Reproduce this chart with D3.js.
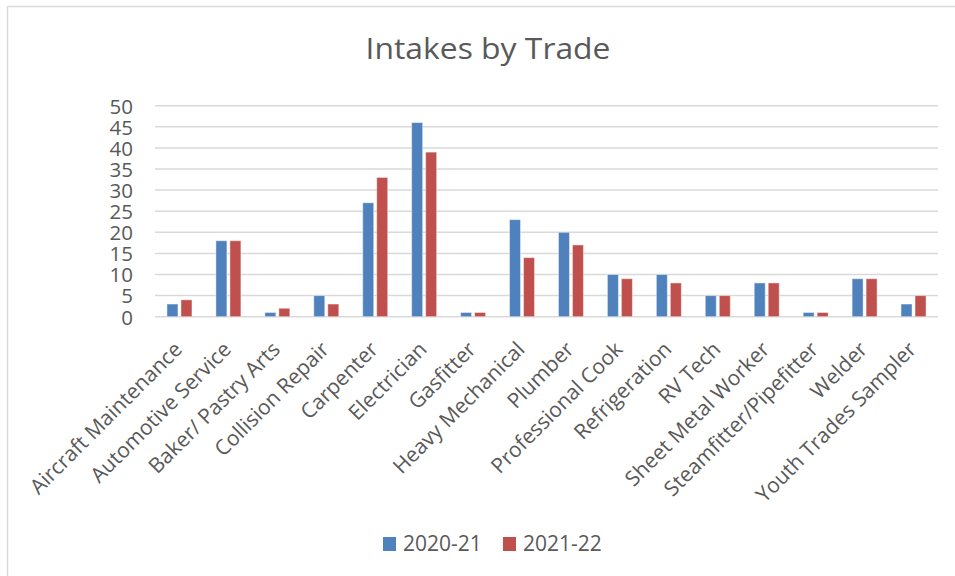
<!DOCTYPE html>
<html>
<head>
<meta charset="utf-8">
<script src="https://cdn.jsdelivr.net/npm/d3@7"></script>
<style>
  html, body { margin: 0; padding: 0; background: #fff; }
  svg { display: block; }
</style>
</head>
<body>
<svg id="chart" width="955" height="576"></svg>
<script>
const categories = ["Aircraft Maintenance", "Automotive Service", "Baker/ Pastry Arts", "Collision Repair",
  "Carpenter", "Electrician", "Gasfitter", "Heavy Mechanical", "Plumber", "Professional Cook",
  "Refrigeration", "RV Tech", "Sheet Metal Worker", "Steamfitter/Pipefitter", "Welder", "Youth Trades Sampler"];
const seriesNames = ["2020-21", "2021-22"];
const values2020 = [3, 18, 1, 5, 27, 46, 1, 23, 20, 10, 10, 5, 8, 1, 9, 3];
const values2021 = [4, 18, 2, 3, 33, 39, 1, 14, 17, 9, 8, 5, 8, 1, 9, 5];
const yTicks = [0, 5, 10, 15, 20, 25, 30, 35, 40, 45, 50];
const colors = ["#4F81BD", "#C0504D"];
const chartTitle = "Intakes by Trade";

(function () {
const svg = d3.select("#chart");
const textColor = "#595959";
const font = "'Open Sans', sans-serif";

// outer chart border
svg.append("rect").attr("x", 7.5).attr("y", 6.5).attr("width", 1000).attr("height", 1000)
  .attr("fill", "none").attr("stroke", "#D9D9D9").attr("stroke-width", 1.5);

const pLeft = 155, pRight = 938, pTop = 105.7, pBottom = 316.7;

const x = d3.scaleBand().domain(categories).range([pLeft, pRight]).paddingInner(0).paddingOuter(0);
const y = d3.scaleLinear().domain([0, 50]).range([pBottom, pTop]);

// gridlines
svg.append("g").selectAll("line").data(yTicks).join("line")
  .attr("x1", pLeft).attr("x2", pRight)
  .attr("y1", d => y(d)).attr("y2", d => y(d))
  .attr("stroke", "#D9D9D9").attr("stroke-width", 1.5);

// y axis labels
const yAxis = d3.axisLeft(y).tickValues(yTicks).tickSize(0).tickPadding(0);
const yg = svg.append("g").attr("transform", `translate(133,0)`).call(yAxis);
yg.select(".domain").remove();
yg.selectAll("text").attr("fill", textColor).attr("font-family", font)
  .attr("font-size", 20.5).attr("dy", "0.36em");

// bars
const barW = 11, gap = 3;
const data = [values2020, values2021];
const bars = svg.append("g");
data.forEach((vals, si) => {
  bars.selectAll(null).data(vals.map((v, i) => ({ v, c: categories[i] }))).join("rect")
    .attr("x", d => x(d.c) + x.bandwidth() / 2 - (barW + gap / 2) + si * (barW + gap))
    .attr("y", d => y(d.v))
    .attr("width", barW)
    .attr("height", d => y(0) - y(d.v))
    .attr("fill", colors[si])
    .attr("stroke", "#ffffff").attr("stroke-opacity", 0.45).attr("stroke-width", 1);
});

// x axis labels
const xAxis = d3.axisBottom(x).tickSize(0).tickPadding(0);
const xg = svg.append("g").attr("transform", `translate(0,${pBottom})`).call(xAxis);
xg.select(".domain").remove();
xg.selectAll("text")
  .attr("fill", textColor).attr("font-family", font).attr("font-size", 21)
  .attr("text-anchor", "end").attr("dy", null).attr("y", 0)
  .attr("transform", "translate(4,34) rotate(-45)");

// title
svg.append("text").attr("x", 488).attr("y", 59).attr("text-anchor", "middle")
  .attr("fill", textColor).attr("font-family", font)
  .attr("font-size", 29).attr("textLength", 245).attr("lengthAdjust", "spacingAndGlyphs")
  .text(chartTitle);

// legend
const legend = svg.append("g");
const legX = [383, 503];
seriesNames.forEach((s, i) => {
  legend.append("rect").attr("x", legX[i]).attr("y", 537).attr("width", 13).attr("height", 14).attr("fill", colors[i]);
  legend.append("text").attr("x", legX[i] + 20).attr("y", 551).attr("fill", textColor)
    .attr("font-family", font).attr("font-size", 21).text(s);
});
})();
</script>
</body>
</html>
